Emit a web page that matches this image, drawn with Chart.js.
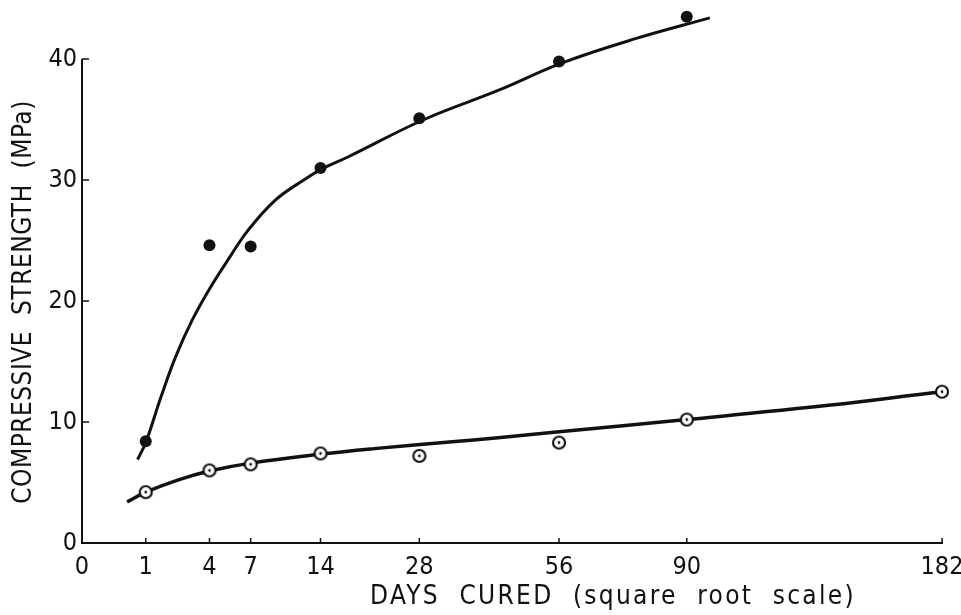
<!DOCTYPE html>
<html>
<head>
<meta charset="utf-8">
<script src="https://cdn.jsdelivr.net/npm/chart.js@4.4.0/dist/chart.umd.min.js"></script>
<style>
html, body { margin: 0; padding: 0; background: #fff; }
canvas { display: block; }
</style>
</head>
<body>
<canvas id="grafico" width="961" height="615"></canvas>
<script>
// tick labels
const diasTicks = [0, 1, 4, 7, 14, 28, 56, 90, 182];
const resistenciaTicks = [0, 10, 20, 30, 40];

// measured points (days cured -> MPa)
const diasA = [1, 4, 7, 14, 28, 56, 90];
const resistenciaA = [8.4, 24.6, 24.5, 31.0, 35.1, 39.8, 43.5];
const diasB = [1, 4, 7, 14, 28, 56, 90, 182];
const resistenciaB = [4.2, 6.0, 6.5, 7.4, 7.2, 8.3, 10.2, 12.5];

// hand drawn curves
const curvaDiasA = [0.76, 1.0, 1.54, 2.16, 2.98, 4.0, 5.36, 6.75, 9.15, 12.1, 14.4, 17.4, 28.8, 42.6, 56.9, 75.6, 97];
const curvaA = [6.9, 8.3, 12.1, 15.4, 18.4, 21.0, 23.6, 25.8, 28.3, 30.0, 31.0, 31.9, 35.0, 37.4, 39.7, 41.7, 43.4];
const curvaDiasB = [0.5, 1.0, 2.25, 4.0, 7.0, 14.1, 21, 33.2, 42.6, 56, 90, 138, 182, 189];
const curvaB = [3.4, 4.2, 5.2, 5.95, 6.6, 7.35, 7.8, 8.35, 8.7, 9.2, 10.2, 11.4, 12.5, 12.6];

const TINTA = '#111';
const FUENTE = "'Liberation Sans Narrow', 'DejaVu Sans Condensed', 'Liberation Sans', sans-serif";

// square root axis
class RaizScale extends Chart.LinearScale {
    static id = 'raiz';
    static defaults = {};

    buildTicks() {
        return diasTicks.map(v => ({ value: v }));
    }

    configure() {
        super.configure();
        this._rMin = Math.sqrt(this.min);
        this._rRange = Math.sqrt(this.max) - this._rMin;
    }

    getPixelForValue(value) {
        return this.getPixelForDecimal((Math.sqrt(value) - this._rMin) / this._rRange);
    }

    getValueForPixel(pixel) {
        const r = this._rMin + this.getDecimalForPixel(pixel) * this._rRange;
        return r * r;
    }
}
Chart.register(RaizScale);

function crearCirculoAbierto() {
    const c = document.createElement('canvas');
    c.width = 18;
    c.height = 18;
    const g = c.getContext('2d');
    g.beginPath();
    g.arc(9, 9, 6, 0, Math.PI * 2);
    g.fillStyle = '#fff';
    g.fill();
    g.lineWidth = 2.2;
    g.strokeStyle = TINTA;
    g.stroke();
    g.beginPath();
    g.arc(9, 9, 1.4, 0, Math.PI * 2);
    g.fillStyle = TINTA;
    g.fill();
    return c;
}

const aPuntos = (xs, ys) => xs.map((x, i) => ({ x: x, y: ys[i] }));

// y axis line (stops at 40), inward tick marks, axis titles
const decoracion = {
    id: 'decoracion',
    afterDraw(chart) {
        const { ctx, chartArea } = chart;
        const sx = chart.scales.x;
        const sy = chart.scales.y;
        const tope = sy.getPixelForValue(resistenciaTicks[resistenciaTicks.length - 1]);
        ctx.save();
        ctx.strokeStyle = TINTA;
        ctx.lineWidth = 2;
        ctx.beginPath();
        ctx.moveTo(chartArea.left, chartArea.bottom + 1);
        ctx.lineTo(chartArea.left, tope);
        ctx.stroke();

        ctx.lineWidth = 1.5;
        ctx.beginPath();
        diasTicks.slice(1).forEach(v => {
            const px = sx.getPixelForValue(v);
            ctx.moveTo(px, chartArea.bottom);
            ctx.lineTo(px, chartArea.bottom - 5);
        });
        resistenciaTicks.slice(1).forEach(v => {
            const py = sy.getPixelForValue(v);
            ctx.moveTo(chartArea.left, py);
            ctx.lineTo(chartArea.left + 7, py);
        });
        ctx.stroke();

        ctx.fillStyle = TINTA;
        ctx.textAlign = 'center';
        ctx.textBaseline = 'middle';
        ctx.font = '26px ' + FUENTE;
        ctx.letterSpacing = '2.3px';
        ctx.fillText('DAYS  CURED  (square  root  scale)', 613, 597);

        ctx.font = '26px ' + FUENTE;
        ctx.letterSpacing = '0.5px';
        ctx.translate(24, 302);
        ctx.rotate(-Math.PI / 2);
        ctx.fillText('COMPRESSIVE  STRENGTH  (MPa)', 0, 0);
        ctx.restore();
    }
};

const ctx = document.getElementById('grafico').getContext('2d');
new Chart(ctx, {
    type: 'scatter',
    data: {
        datasets: [
            {
                data: aPuntos(curvaDiasA, curvaA),
                showLine: true,
                borderColor: TINTA,
                borderWidth: 3,
                pointRadius: 0,
                tension: 0.4,
                clip: false,
                order: 3
            },
            {
                data: aPuntos(curvaDiasB, curvaB),
                showLine: true,
                borderColor: TINTA,
                borderWidth: 3.5,
                pointRadius: 0,
                tension: 0.4,
                clip: false,
                order: 3
            },
            {
                data: aPuntos(diasA, resistenciaA),
                pointStyle: 'circle',
                pointRadius: 6,
                backgroundColor: TINTA,
                borderWidth: 0,
                clip: false,
                order: 1
            },
            {
                data: aPuntos(diasB, resistenciaB),
                pointStyle: crearCirculoAbierto(),
                pointRadius: 9,
                clip: false,
                order: 1
            }
        ]
    },
    options: {
        responsive: false,
        animation: false,
        layout: { padding: { top: 10.6, right: 19, left: 0, bottom: 0 } },
        plugins: { legend: { display: false }, tooltip: { enabled: false } },
        scales: {
            x: {
                type: 'raiz',
                min: 0,
                max: 182,
                grid: { display: false, drawTicks: false },
                border: { display: true, color: TINTA, width: 2 },
                ticks: {
                    autoSkip: false,
                    maxRotation: 0,
                    padding: 9,
                    color: TINTA,
                    font: { family: FUENTE, size: 25 },
                    callback: v => String(v)
                },
                afterFit: s => {
                    s.height = 72;
                    s.paddingLeft = 0;
                    s.paddingRight = 0;
                }
            },
            y: {
                min: 0,
                max: 44,
                grid: { display: false, drawTicks: false },
                border: { display: false },
                ticks: {
                    padding: 5,
                    color: TINTA,
                    font: { family: FUENTE, size: 25 }
                },
                afterBuildTicks: s => {
                    s.ticks = resistenciaTicks.map(v => ({ value: v }));
                },
                afterFit: s => {
                    s.width = 82;
                    s.paddingTop = 0;
                    s.paddingBottom = 0;
                }
            }
        }
    },
    plugins: [decoracion]
});
</script>
</body>
</html>
